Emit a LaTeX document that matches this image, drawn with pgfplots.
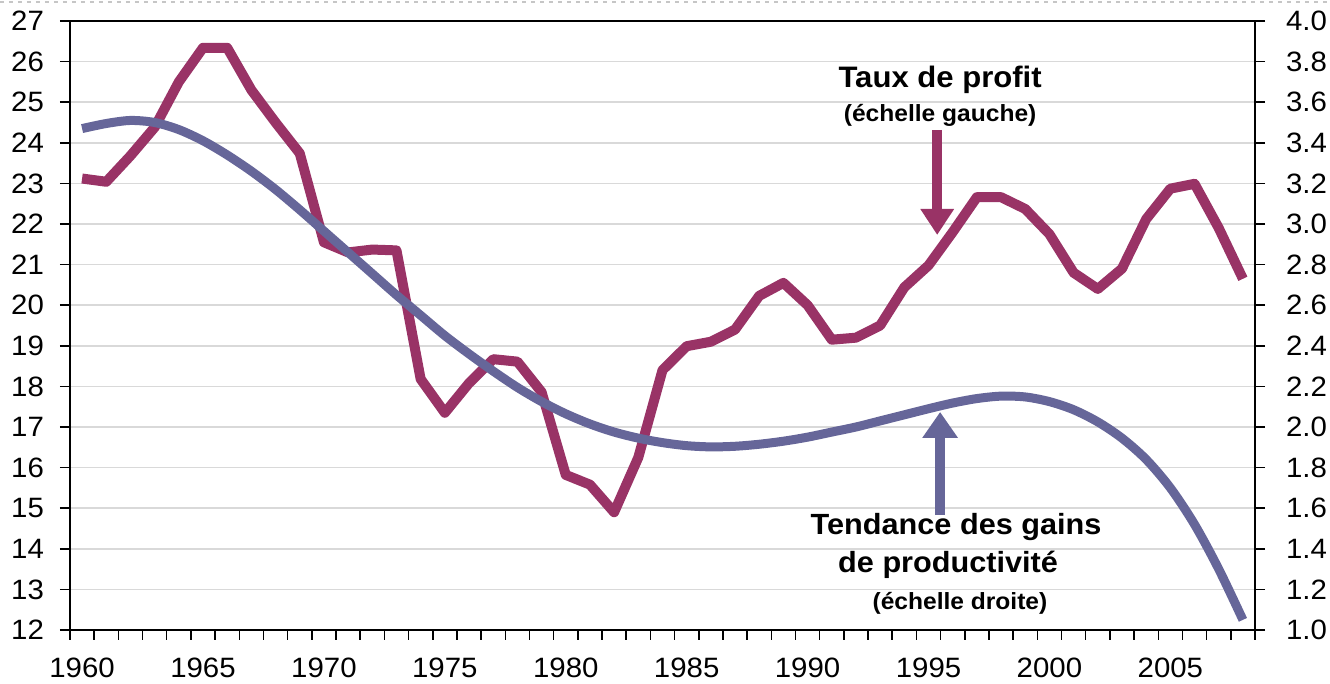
\documentclass[border=0pt]{standalone}
\usepackage{fontspec}
\setmainfont{Liberation Sans}[FakeStretch=1.05]
\usepackage{pgfplots}
\usepackage{pgfplotstable}
\pgfplotsset{compat=1.18}
\usetikzlibrary{arrows.meta}
\definecolor{prof}{HTML}{993366}
\definecolor{prod}{HTML}{666699}
\definecolor{gridc}{HTML}{D9D9D9}

\pgfplotstableread{
year val
1960 23.12
1961 23.04
1962 23.68
1963 24.38
1964 25.50
1965 26.34
1966 26.34
1967 25.30
1968 24.50
1969 23.74
1970 21.55
1971 21.30
1972 21.37
1973 21.35
1974 18.18
1975 17.35
1976 18.08
1977 18.67
1978 18.61
1979 17.86
1980 15.82
1981 15.58
1982 14.90
1983 16.25
1984 18.40
1985 18.99
1986 19.10
1987 19.40
1988 20.23
1989 20.55
1990 20.00
1991 19.15
1992 19.20
1993 19.50
1994 20.44
1995 20.98
1996 21.80
1997 22.66
1998 22.66
1999 22.37
2000 21.75
2001 20.80
2002 20.40
2003 20.90
2004 22.12
2005 22.87
2006 22.99
2007 21.90
2008 20.65
}\profit

\pgfplotstableread{
year val
1960 3.47
1961 3.495
1962 3.51
1963 3.50
1964 3.465
1965 3.41
1966 3.34
1967 3.26
1968 3.17
1969 3.07
1970 2.965
1971 2.86
1972 2.755
1973 2.65
1974 2.55
1975 2.45
1976 2.36
1977 2.275
1978 2.195
1979 2.125
1980 2.065
1981 2.015
1982 1.975
1983 1.945
1984 1.923
1985 1.908
1986 1.902
1987 1.905
1988 1.915
1989 1.93
1990 1.95
1991 1.975
1992 2.00
1993 2.03
1994 2.06
1995 2.09
1996 2.118
1997 2.14
1998 2.152
1999 2.148
2000 2.125
2001 2.085
2002 2.025
2003 1.945
2004 1.84
2005 1.70
2006 1.52
2007 1.30
2008 1.05
}\prodt

\pgfplotsset{
  base/.style={
    scale only axis, width=592.5pt, height=304.5pt,
    at={(0pt,0pt)}, anchor=south west,
    xmin=1959.5, xmax=2008.5,
    tick align=outside,
    /pgf/number format/assume math mode=true,
    tick label style={font=\fontsize{14}{16}\selectfont},
    axis line style={black, line width=0.75pt},
    tick style={black, line width=0.75pt},
    major tick length=5pt, minor tick length=5pt,
  }
}

\begin{document}
\begin{tikzpicture}
\useasboundingbox (-35pt,-27pt) rectangle (630pt,315pt);
\draw[gray!45, line width=0.75pt, dash pattern=on 2pt off 2.5pt] (-35pt,314pt) -- (630pt,314pt);
\begin{axis}[base,
  ymin=12, ymax=27, ytick={12,13,...,27},
  tick pos=left,
  xtick={1960,1965,...,2005},
  major x tick style={draw=none},
  minor xtick={1959.5,1960.5,...,2008.5},
  xticklabel style={/pgf/number format/1000 sep={}, yshift=-5.5pt},
  yticklabel style={xshift=-4.5pt},
  ymajorgrids, grid style={gridc, line width=0.75pt},
]
\addplot[prof, line width=5pt, line join=round] table[x=year,y=val]{\profit};
\draw[prof, line width=5pt, -{Triangle[width=16pt,length=13pt]}] (axis cs:1995.36,24.32) -- (axis cs:1995.36,21.73);
\draw[prod, line width=5pt, -{Triangle[width=17pt,length=13pt]}] (axis cs:1995.48,14.83) -- (axis cs:1995.48,17.37);
\node[font=\bfseries\fontsize{14.8}{17}\selectfont] at (axis cs:1995.48,25.55) {Taux de profit};
\node[font=\bfseries\fontsize{11.7}{13}\selectfont] at (axis cs:1995.48,24.68) {(échelle gauche)};
\node[font=\bfseries\fontsize{14.6}{17}\selectfont] at (axis cs:1996.14,14.54) {Tendance des gains};
\node[font=\bfseries\fontsize{14.6}{17}\selectfont] at (axis cs:1995.81,13.60) {de productivité};
\node[font=\bfseries\fontsize{11.7}{13}\selectfont] at (axis cs:1996.30,12.66) {(échelle droite)};
\end{axis}
\begin{axis}[base,
  ymin=1, ymax=4, ytick={1,1.2,1.4,1.6,1.8,2,2.2,2.4,2.6,2.8,3,3.2,3.4,3.6,3.8,4},
  axis x line=none, axis y line*=right,
  yticklabel style={xshift=7pt, /pgf/number format/.cd, fixed, fixed zerofill, precision=1},
]
\addplot[prod, line width=4.5pt, line join=round, smooth] table[x=year,y=val]{\prodt};
\end{axis}
\end{tikzpicture}
\end{document}
